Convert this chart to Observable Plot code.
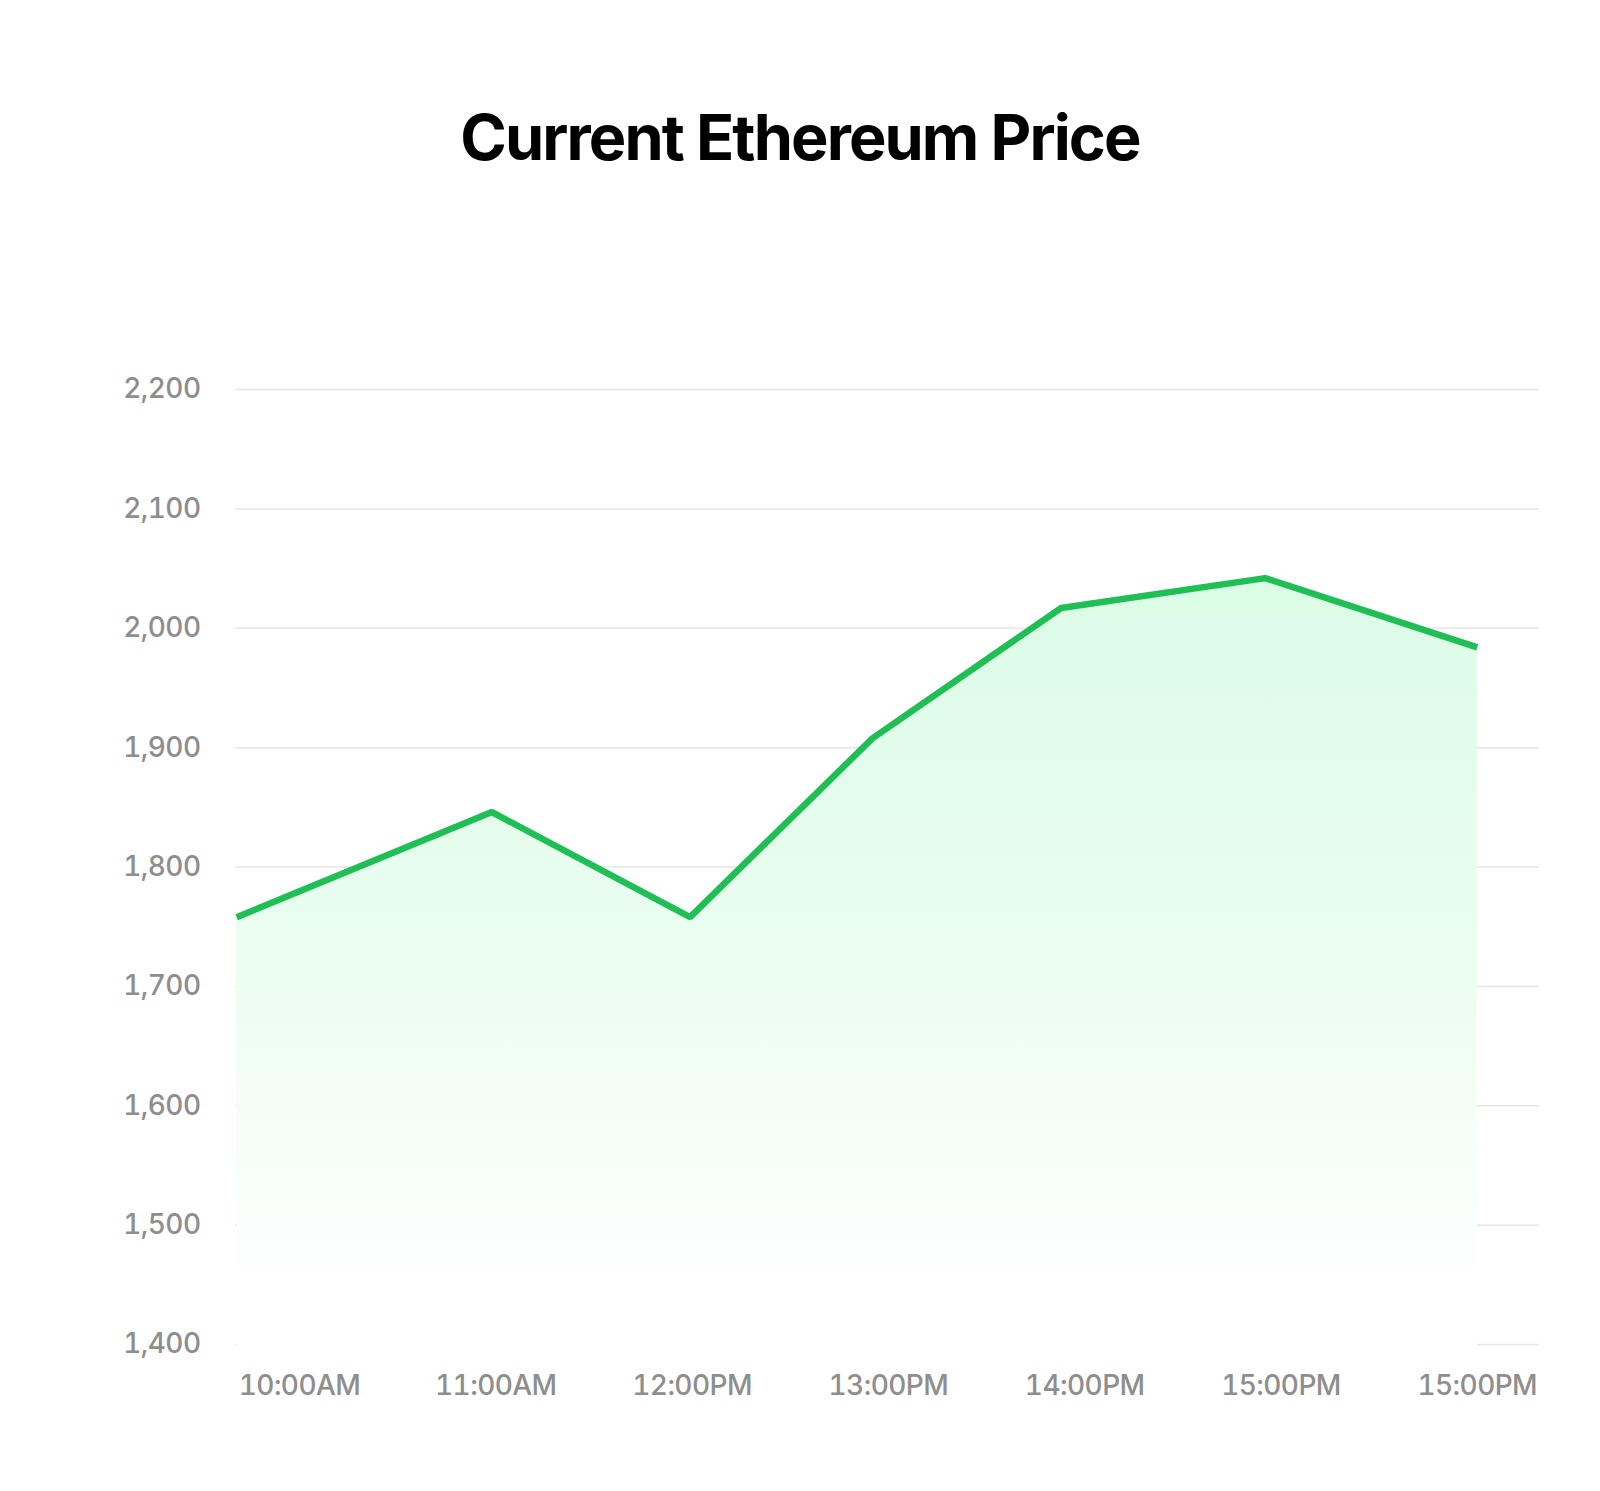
<!DOCTYPE html>
<html>
<head>
<meta charset="utf-8">
<script src="https://cdn.jsdelivr.net/npm/d3@7"></script>
<script src="https://cdn.jsdelivr.net/npm/@observablehq/plot@0.6"></script>
<style>
  html, body { margin: 0; padding: 0; background: #ffffff; }
  body { width: 1600px; font-family: Inter, "Noto Sans", sans-serif; }
  #title { height: 200px; position: relative; }
  #title h1 { position: absolute; left: 0; right: 0; top: 106px; margin: 0; text-align: center;
    font-family: Inter, sans-serif; font-weight: 700; font-size: 63px; line-height: 1; letter-spacing: -0.03em; color: #000; }
</style>
</head>
<body>
<div id="title"><h1>Current Ethereum Price</h1></div>
<div id="chart"></div>
<script>
// Data (x in hours, positioned relative to the tick labels)
const times  = [9.68, 10.98, 11.99, 12.92, 13.88, 14.92, 16.0];
const prices = [1758, 1846, 1758, 1908, 2017, 2042, 1984];
const xTickValues = [10, 11, 12, 13, 14, 15, 16];
const xTickLabels = ["10:00AM", "11:00AM", "12:00PM", "13:00PM", "14:00PM", "15:00PM", "15:00PM"];
const yTicks = [1400, 1500, 1600, 1700, 1800, 1900, 2000, 2100, 2200];
const areaBase = 1394;

const data = times.map((t, i) => ({time: t, price: prices[i]}));

function gradientDefs() {
  const ns = "http://www.w3.org/2000/svg";
  const defs = document.createElementNS(ns, "defs");
  const lg = document.createElementNS(ns, "linearGradient");
  lg.setAttribute("id", "areaGrad");
  lg.setAttribute("x1", "0"); lg.setAttribute("y1", "0");
  lg.setAttribute("x2", "0"); lg.setAttribute("y2", "1");
  [["0", "#dbfce6"], ["0.5", "#ebfdf1"], ["0.93", "#ffffff"], ["1", "#ffffff"]].forEach(([o, c]) => {
    const s = document.createElementNS(ns, "stop");
    s.setAttribute("offset", o); s.setAttribute("stop-color", c);
    lg.appendChild(s);
  });
  defs.appendChild(lg);
  return defs;
}

const chart = Plot.plot({
  width: 1600,
  height: 1291,
  marginTop: 189,
  marginBottom: 147,
  marginLeft: 235,
  marginRight: 61,
  style: {fontFamily: "Inter, sans-serif", fontSize: "28px", fontWeight: 500, color: "#8e8e8e", background: "#ffffff"},
  x: {domain: [9.674, 16.317], ticks: xTickValues, tickFormat: d => xTickLabels[xTickValues.indexOf(d)], tickSize: 0, tickPadding: 31, label: null},
  y: {domain: [1400, 2200], ticks: yTicks, tickFormat: d3.format(","), tickSize: 0, tickPadding: 35, label: null},
  marks: [
    gradientDefs,
    Plot.gridY(yTicks, {stroke: "#e6e6e6", strokeOpacity: 1, strokeWidth: 1.5}),
    Plot.areaY(data, {x: "time", y1: areaBase, y2: "price", fill: "url(#areaGrad)"}),
    Plot.lineY(data, {x: "time", y: "price", stroke: "#1fbf55", strokeWidth: 6.5, strokeLinejoin: "miter", strokeLinecap: "butt"})
  ]
});
chart.style.letterSpacing = "-0.02em";
document.getElementById("chart").appendChild(chart);
</script>
</body>
</html>
